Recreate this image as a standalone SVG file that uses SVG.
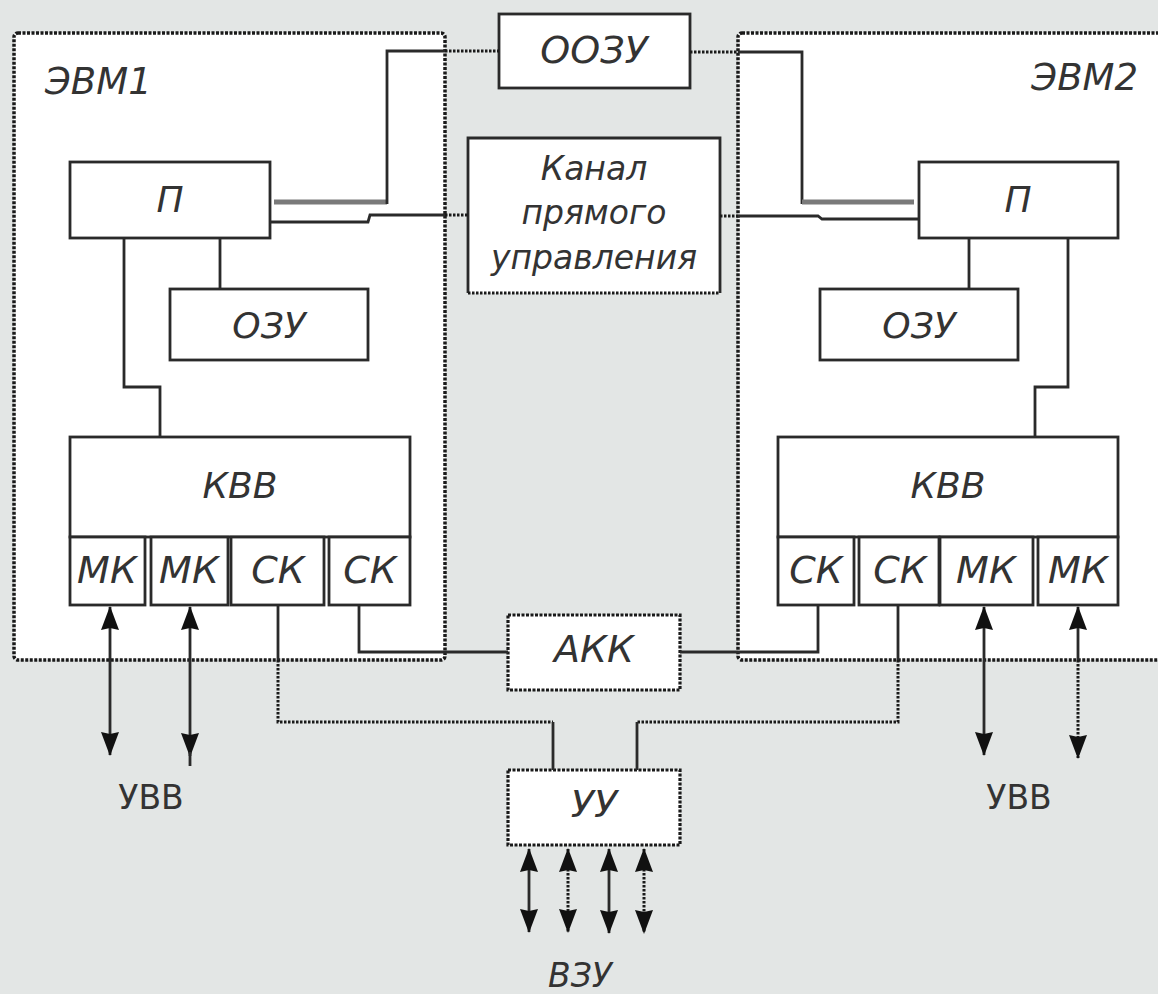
<svg xmlns="http://www.w3.org/2000/svg" width="1158" height="994" viewBox="0 0 1158 994">
<defs>
<style>
.bg{fill:#e3e6e5}
.frame{fill:#fff;stroke:#1a1a1a;stroke-width:3.5;stroke-dasharray:3 1.5}
.box{fill:#fff;stroke:#2a2a2a;stroke-width:2.8}
.dbox{fill:#fff;stroke:#1a1a1a;stroke-width:3.2;stroke-dasharray:3 1.5}
.ln{fill:none;stroke:#2a2a2a;stroke-width:2.8}
.thick{fill:none;stroke:#7a7a7a;stroke-width:5}
.dot{fill:none;stroke:#1a1a1a;stroke-width:3;stroke-dasharray:2.5 1.5}
.t{font-family:"DejaVu Sans",sans-serif;font-style:italic;fill:#333;text-anchor:middle}
.u{font-family:"DejaVu Sans",sans-serif;fill:#333;text-anchor:middle}
</style>
<marker id="ah" viewBox="0 0 24 20" refX="23" refY="10" markerWidth="24" markerHeight="20" markerUnits="userSpaceOnUse" orient="auto-start-reverse"><path d="M0,1 L24,10 L0,19 L2,10 z" fill="#111"/></marker>
</defs>
<rect class="bg" x="0" y="0" width="1158" height="994"/>

<g id="evm1"><rect class="frame" x="14" y="33" width="431" height="627" rx="4"/><text class="t" x="45" y="94" font-size="37" style="text-anchor:start">ЭВМ1</text></g>
<g id="evm2"><rect class="frame" x="738" y="33" width="440" height="627" rx="4"/><text class="t" x="1138" y="90" font-size="37" style="text-anchor:end">ЭВМ2</text></g>

<g id="oozu"><rect class="box" x="499" y="14" width="191" height="74"/><text class="t" x="594" y="63" font-size="38">ООЗУ</text></g>
<g id="kanal"><rect x="468" y="138" width="252" height="155" fill="#fff"/><path class="ln" d="M468,293 V138 H720 V293"/><path class="dot" d="M468,293 H720"/>
<text class="t" x="594" y="180" font-size="33">Канал</text><text class="t" x="594" y="224" font-size="33">прямого</text><text class="t" x="594" y="269" font-size="33">управления</text></g>

<g id="p1"><rect class="box" x="70" y="162" width="200" height="76"/><text class="t" x="170" y="212" font-size="36">П</text></g>
<g id="ozu1"><rect class="box" x="170" y="289" width="198" height="71"/><text class="t" x="269" y="338" font-size="36">ОЗУ</text></g>
<g id="kvv1"><rect class="box" x="70" y="437" width="340" height="100"/><text class="t" x="240" y="498" font-size="36">КВВ</text></g>
<g id="mk1a"><rect class="box" x="70" y="537" width="75" height="68"/><text class="t" x="107" y="583" font-size="38">МК</text></g>
<g id="mk1b"><rect class="box" x="151" y="537" width="77" height="68"/><text class="t" x="189" y="583" font-size="38">МК</text></g>
<g id="sk1a"><rect class="box" x="231" y="537" width="93" height="68"/><text class="t" x="278" y="583" font-size="38">СК</text></g>
<g id="sk1b"><rect class="box" x="329" y="537" width="81" height="68"/><text class="t" x="370" y="583" font-size="38">СК</text></g>

<g id="p2"><rect class="box" x="919" y="162" width="199" height="76"/><text class="t" x="1018" y="212" font-size="36">П</text></g>
<g id="ozu2"><rect class="box" x="820" y="289" width="198" height="71"/><text class="t" x="919" y="338" font-size="36">ОЗУ</text></g>
<g id="kvv2"><rect class="box" x="778" y="437" width="340" height="100"/><text class="t" x="948" y="498" font-size="36">КВВ</text></g>
<g id="sk2a"><rect class="box" x="778" y="537" width="76" height="68"/><text class="t" x="816" y="583" font-size="38">СК</text></g>
<g id="sk2b"><rect class="box" x="859" y="537" width="80" height="68"/><text class="t" x="900" y="583" font-size="38">СК</text></g>
<g id="mk2a"><rect class="box" x="940" y="537" width="93" height="68"/><text class="t" x="986" y="583" font-size="38">МК</text></g>
<g id="mk2b"><rect class="box" x="1038" y="537" width="80" height="68"/><text class="t" x="1078" y="583" font-size="38">МК</text></g>

<g id="akk"><rect class="dbox" x="508" y="615" width="172" height="75"/><text class="t" x="594" y="662" font-size="38">АКК</text></g>
<g id="uu"><rect class="dbox" x="508" y="770" width="172" height="75"/><text class="t" x="594" y="817" font-size="38">УУ</text></g>

<g id="uvv1"><text class="u" x="151" y="809" font-size="33">УВВ</text></g>
<g id="uvv2"><text class="u" x="1019" y="809" font-size="33">УВВ</text></g>
<g id="vzu"><text class="t" x="580" y="987" font-size="33">ВЗУ</text></g>

<g id="connectors">
<path class="ln" d="M220,238 V289"/>
<path class="ln" d="M124,238 V387 H160 V437"/>
<path class="thick" d="M274,202 H387"/>
<path class="ln" d="M387,204 V51 H445"/>
<path class="dot" d="M445,51 H499"/>
<path class="ln" d="M270,222 H368 L370,215 H445"/>
<path class="dot" d="M445,215 H468"/>
<path class="dot" d="M690,52 H738"/>
<path class="ln" d="M738,52 H802 V204"/>
<path class="thick" d="M802,202 H914"/>
<path class="dot" d="M720,216 H738"/>
<path class="ln" d="M738,216 H818 L822,219 H919"/>
<path class="ln" d="M969,238 V289"/>
<path class="ln" d="M1068,238 V387 H1035 V437"/>
<path class="ln" d="M359,605 V652 H508"/>
<path class="ln" d="M680,652 H818 V605"/>
<path class="ln" d="M278,605 V660"/>
<path class="dot" d="M278,660 V722 H553"/>
<path class="ln" d="M553,722 V770"/>
<path class="ln" d="M898,605 V660"/>
<path class="dot" d="M898,660 V722 H637"/>
<path class="ln" d="M637,722 V770"/>
<path class="ln" d="M110,607 V755" marker-start="url(#ah)" marker-end="url(#ah)"/>
<path class="ln" d="M190,607 V756" marker-start="url(#ah)" marker-end="url(#ah)"/>
<path class="ln" d="M190,752 V766"/>
<path class="ln" d="M984,607 V755" marker-start="url(#ah)" marker-end="url(#ah)"/>
<path class="ln" d="M1078,607 V660" marker-start="url(#ah)"/>
<path class="dot" d="M1078,660 V758" marker-end="url(#ah)"/>
<path class="ln" d="M529,849 V932" marker-start="url(#ah)" marker-end="url(#ah)"/>
<path class="dot" d="M568,849 V932" marker-start="url(#ah)" marker-end="url(#ah)"/>
<path class="ln" d="M609,849 V933" marker-start="url(#ah)" marker-end="url(#ah)"/>
<path class="dot" d="M644,849 V933" marker-start="url(#ah)" marker-end="url(#ah)"/>
</g>
</svg>
